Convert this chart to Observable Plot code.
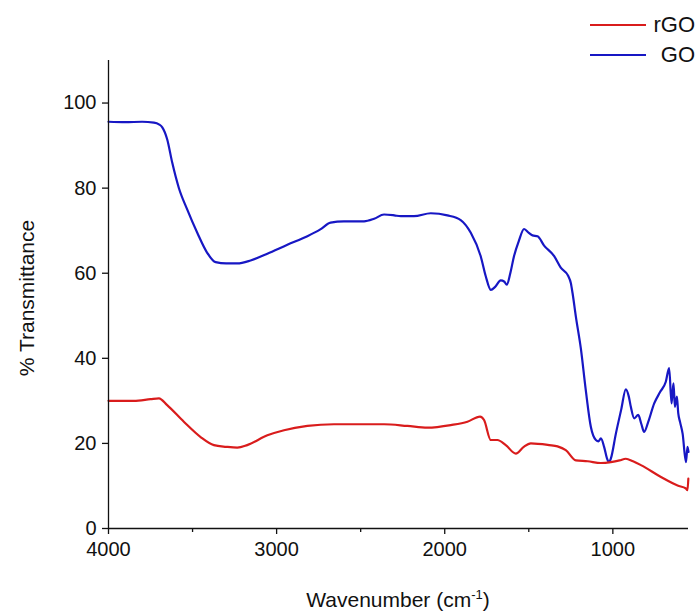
<!DOCTYPE html>
<html><head><meta charset="utf-8">
<script src="https://cdn.jsdelivr.net/npm/d3@7"></script>
<script src="https://cdn.jsdelivr.net/npm/@observablehq/plot@0.6"></script>
<style>
body{margin:0;background:#fff;font-family:"Liberation Sans",Arial,sans-serif;}
#wrap{position:relative;width:700px;height:614px;overflow:hidden;}
#wrap svg{position:absolute;left:0;top:0;}
.ttl{position:absolute;font-size:21px;color:#111;white-space:nowrap;}
.ttl sup{font-size:13px;vertical-align:8px;line-height:0;}
.legline{position:absolute;height:2px;}
.legtxt{position:absolute;right:5px;font-size:22px;color:#111;line-height:1;}
</style></head>
<body><div id="wrap"></div>
<script>
const seriesNames = ["rGO", "GO"];
const seriesColors = ["#d91c1c", "#1717c4"];

const goWn = [4000,3900,3800,3730,3700,3680,3651,3621,3582,3532,3472,3413,3363,3300,3234,3155,3055,2936,2817,2740,2679,2600,2480,2420,2361,2300,2262,2183,2083,1984,1905,1845,1786,1756,1726,1700,1667,1645,1631,1610,1588,1560,1528,1500,1478,1448,1409,1349,1310,1266,1250,1240,1220,1190,1161,1131,1101,1085,1071,1052,1035,1022,1012,982,950,923,905,893,873,849,830,814,790,754,720,685,665,651,645,639,631,619,611,600,585,565,556,550];
const goT  = [95.6,95.5,95.6,95.4,95.0,94.3,91.5,86.0,80.1,75.0,69.5,64.8,62.6,62.3,62.3,63.0,64.6,66.7,68.7,70.3,71.9,72.2,72.2,72.8,73.8,73.6,73.4,73.4,74.1,73.6,72.5,69.5,64.0,59.3,56.1,56.8,58.3,58.0,57.3,60.0,64.0,67.5,70.4,69.5,68.9,68.7,66.5,64.0,61.3,59.4,57.7,55.4,49.8,42.2,32.5,23.9,20.8,20.5,21.2,19.2,16.5,15.6,16.4,22.3,28.0,32.7,31.0,28.6,25.9,26.7,24.5,22.7,25.0,29.4,32.0,34.5,37.7,29.4,32.0,34.1,28.6,31.0,27.1,25.0,22.3,15.6,19.2,18.0];

const rgoWn = [4000,3849,3750,3700,3651,3552,3452,3373,3300,3234,3175,3055,2956,2817,2659,2500,2361,2222,2103,1964,1865,1790,1766,1726,1687,1637,1577,1530,1488,1379,1329,1280,1220,1150,1071,1012,960,923,880,833,714,615,565,556,551];
const rgoT  = [30.0,30.0,30.4,30.6,29.0,25.1,21.5,19.6,19.2,19.0,19.6,21.9,23.1,24.1,24.5,24.5,24.5,24.1,23.7,24.3,25.1,26.3,25.5,20.8,20.8,19.6,17.6,19.2,20.0,19.6,19.3,18.4,16.0,15.8,15.4,15.6,16.0,16.4,15.8,14.9,12.1,10.1,9.4,9.0,11.7];

const xTicks = [4000, 3000, 2000, 1000];
const xMinorTicks = [3500, 2500, 1500];
const yTicks = [0, 20, 40, 60, 80, 100];
const xTitle = "Wavenumber (cm<sup>-1</sup>)";
const yTitle = "% Transmittance";

const rows = [
  ...goWn.map((w, i) => ({wn: w, t: goT[i], s: "GO"})),
  ...rgoWn.map((w, i) => ({wn: w, t: rgoT[i], s: "rGO"}))
];

const plot = Plot.plot({
  width: 700, height: 614,
  marginLeft: 108, marginRight: 12, marginTop: 60, marginBottom: 86,
  style: {fontFamily: '"Liberation Sans", Arial, sans-serif', color: "#111", background: "transparent"},
  x: {domain: [4000, 550]},
  y: {domain: [0, 110]},
  color: {domain: seriesNames, range: seriesColors},
  marks: [
    Plot.line(rows, {x: "wn", y: "t", z: "s", stroke: "s", strokeWidth: 2.2, curve: "monotone-x"}),
    Plot.ruleY([0], {stroke: "#111", strokeWidth: 1.3}),
    Plot.ruleX([4000], {stroke: "#111", strokeWidth: 1.3}),
    Plot.axisX({ticks: xTicks, tickSize: 6, tickPadding: 7, tickFormat: d => String(d), label: null, fontSize: 20, stroke: "#111", strokeWidth: 1.3}),
    Plot.axisX({ticks: xMinorTicks, tickSize: 4, tickFormat: () => "", label: null, stroke: "#111", strokeWidth: 1.3}),
    Plot.axisY({ticks: yTicks, tickSize: 6, tickPadding: 6, tickFormat: d => String(d), label: null, fontSize: 20, stroke: "#111", strokeWidth: 1.3})
  ]
});
const wrap = document.getElementById("wrap");
wrap.appendChild(plot);

function addDiv(cls, html, styles) {
  const d = document.createElement("div");
  d.className = cls; d.innerHTML = html;
  Object.assign(d.style, styles);
  wrap.appendChild(d);
  return d;
}
addDiv("ttl", xTitle, {left: "398px", top: "600px", transform: "translate(-50%,-50%)"});
addDiv("ttl", yTitle, {left: "27px", top: "298px", transform: "translate(-50%,-50%) rotate(-90deg)"});
const legY = [25, 55];
seriesNames.forEach((n, i) => {
  addDiv("legline", "", {left: "590px", width: "56px", top: (legY[i] - 1) + "px", background: seriesColors[i]});
  addDiv("legtxt", n, {top: (legY[i] - 11) + "px"});
});
</script></body></html>
